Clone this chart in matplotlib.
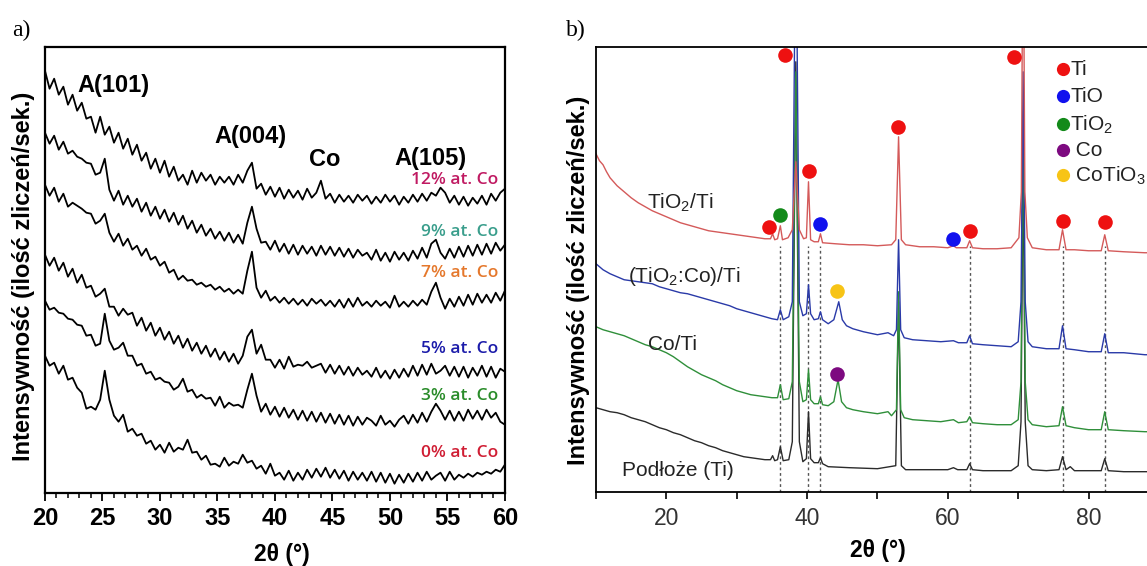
import numpy as np
import matplotlib
matplotlib.use("Agg")
import matplotlib.pyplot as plt
from matplotlib.ticker import MultipleLocator, FixedLocator

plt.rcParams['font.family'] = ['Liberation Sans', 'DejaVu Sans']
plt.rcParams['mathtext.default'] = 'regular'

# ---------------- panel a) data: 2theta grid 20..60 step 0.4 ----------------
tt_a = np.round(np.arange(20.0, 60.01, 0.4), 1)

co_12 = [422, 404, 414, 398, 406, 388, 398, 382, 390, 374,
         376, 360, 376, 358, 366, 350, 360, 344, 354, 338,
         348, 332, 340, 324, 334, 320, 332, 316, 326, 312,
         318, 308, 322, 310, 320, 312, 318, 308, 316, 310,
         316, 308, 318, 310, 322, 330, 304, 309, 298, 306,
         296, 305, 294, 303, 295, 302, 293, 304, 295, 300,
         312, 294, 299, 290, 298, 291, 297, 290, 298, 292,
         297, 289, 296, 290, 298, 291, 297, 288, 296, 290,
         298, 291, 299, 292, 300, 297, 305, 300, 290, 297,
         288, 296, 287, 295, 289, 297, 288, 299, 292, 300,
         304]
co_9 = [360, 349, 357, 343, 351, 339, 342, 336, 334, 330,
        329, 318, 320, 334, 303, 292, 302, 288, 297, 286,
        294, 281, 290, 277, 286, 274, 283, 271, 280, 268,
        277, 264, 272, 260, 268, 257, 264, 254, 261, 252,
        260, 250, 258, 249, 270, 286, 264, 250, 251, 243,
        252, 241, 249, 239, 248, 238, 247, 239, 246, 237,
        247, 238, 246, 237, 245, 236, 244, 235, 243, 237,
        240, 233, 243, 232, 240, 231, 241, 233, 240, 232,
        242, 234, 245, 235, 249, 253, 240, 234, 244, 235,
        246, 236, 247, 237, 248, 238, 249, 239, 250, 242,
        248]
co_7 = [308, 297, 305, 291, 299, 286, 290, 287, 284, 280,
        279, 269, 272, 279, 260, 251, 259, 247, 254, 243,
        247, 237, 244, 233, 236, 227, 231, 220, 223, 213,
        217, 212, 213, 208, 210, 206, 208, 203, 206, 201,
        204, 199, 203, 199, 222, 241, 205, 195, 202, 192,
        196, 190, 195, 189, 194, 188, 193, 187, 194, 189,
        193, 187, 192, 186, 193, 185, 194, 186, 195, 187,
        191, 186, 192, 187, 191, 185, 197, 186, 191, 186,
        192, 187, 193, 188, 201, 210, 195, 184, 194, 186,
        196, 187, 198, 188, 199, 190, 198, 190, 200, 192,
        202]
co_5 = [238, 227, 235, 222, 230, 216, 224, 210, 218, 205,
        207, 196, 199, 204, 186, 186, 177, 184, 178, 180,
        167, 175, 162, 170, 157, 165, 153, 161, 149, 157,
        145, 154, 142, 150, 139, 147, 136, 144, 133, 141,
        131, 139, 129, 137, 156, 163, 139, 148, 133, 133,
        125, 133, 124, 136, 126, 128, 127, 131, 125, 127,
        129, 120, 128, 119, 127, 118, 126, 117, 125, 118,
        122, 116, 125, 115, 122, 114, 123, 115, 124, 116,
        127, 117, 128, 118, 129, 119, 122, 127, 117, 126,
        116, 126, 115, 125, 117, 127, 116, 126, 115, 124,
        121]
co_3 = [192, 183, 185, 180, 179, 174, 173, 168, 167, 157,
        158, 147, 149, 179, 152, 143, 145, 150, 137, 137,
        127, 129, 119, 121, 113, 115, 111, 110, 103, 106,
        114, 101, 103, 95, 98, 94, 95, 87, 96, 85,
        90, 87, 88, 85, 103, 119, 97, 81, 89, 78,
        86, 76, 85, 75, 83, 73, 82, 72, 81, 71,
        80, 70, 79, 69, 78, 68, 77, 67, 76, 68,
        75, 72, 67, 77, 68, 72, 66, 73, 77, 69,
        78, 70, 80, 71, 81, 89, 82, 73, 82, 72,
        81, 72, 83, 74, 82, 73, 83, 75, 80, 71,
        68]
co_0 = [137, 127, 130, 119, 127, 113, 115, 105, 100, 84,
        86, 83, 93, 122, 93, 77, 71, 78, 61, 64,
        57, 59, 49, 52, 43, 48, 40, 50, 41, 45,
        43, 53, 40, 41, 33, 37, 28, 29, 26, 35,
        27, 31, 29, 38, 30, 32, 24, 27, 19, 29,
        17, 20, 13, 22, 12, 20, 13, 23, 15, 24,
        16, 25, 15, 23, 14, 22, 12, 21, 13, 20,
        12, 21, 11, 20, 10, 19, 9, 18, 10, 19,
        11, 20, 12, 21, 13, 17, 20, 12, 21, 13,
        18, 15, 19, 16, 20, 18, 21, 19, 23, 21,
        28]

series_a = [co_12, co_9, co_7, co_5, co_3, co_0]
labels_a = ['12% at. Co', '9% at. Co', '7% at. Co', '5% at. Co', '3% at. Co', '0% at. Co']
label_y_a = [313, 261, 220, 144, 97, 40]
label_colors_a = ['#c01a62', '#3a9e8c', '#e5782c', '#1c1caa', '#2a8c2a', '#d01e34']

peak_names_a = ['A(101)', 'A(004)', 'Co', 'A(105)']
peak_pos_a = [(26.0, 407), (37.85, 356), (44.3, 333), (53.55, 334)]

# ---------------- panel b) data: (2theta, intensity) ----------------
tio2_ti = [(10, 338), (10.5, 331), (11, 327), (11.5, 320), (12, 314), (13, 306), (14, 300),
           (15, 294), (16, 289), (17, 285), (18, 281), (19, 278), (20, 275), (21, 272),
           (22, 269), (23, 267), (24, 265), (25, 263), (26, 261), (27, 260), (28, 259),
           (29, 258), (30, 257), (31, 256), (32, 255), (33, 254), (34, 253), (34.8, 253),
           (35.1, 258), (35.4, 252), (35.8, 253), (36.2, 266), (36.5, 252), (37.3, 254),
           (37.9, 262), (38.4, 330), (38.9, 262), (39.5, 253), (39.9, 254), (40.2, 310),
           (40.5, 252), (41.0, 250), (41.6, 250), (41.9, 258), (42.2, 249), (44, 248),
           (46, 247), (48, 247), (50, 246), (52, 247), (52.6, 252), (53.0, 355), (53.4, 252),
           (54, 247), (56, 245), (58, 245), (60, 244), (60.8, 246), (61.2, 244), (62.7, 244),
           (63.1, 251), (63.5, 244), (65, 243), (67, 243), (69, 244), (70.1, 254),
           (70.45, 300), (70.7, 600), (70.95, 300), (71.3, 254), (72, 244), (74, 242),
           (75.8, 242), (76.3, 262), (76.8, 242), (78, 242), (80, 241), (81.8, 241),
           (82.3, 257), (82.8, 241), (85, 240), (88, 239), (90, 239)]
tio2co_ti = [(10, 228), (11, 222), (12, 218), (13, 215), (14, 212), (15, 211), (16, 210),
             (17, 209), (18, 208), (19, 205), (20, 203), (21, 201), (22, 199), (23, 198),
             (24, 196), (25, 194), (26, 192), (27, 190), (28, 188), (29, 186), (30, 183),
             (31, 181), (32, 179), (33, 177), (34, 175), (35, 173), (35.8, 172), (36.2, 182),
             (36.6, 172), (37.4, 175), (37.9, 190), (38.4, 600), (38.9, 190), (39.4, 176),
             (39.9, 178), (40.2, 207), (40.5, 178), (41.0, 172), (41.6, 173), (41.9, 180),
             (42.2, 172), (43.0, 168), (43.8, 172), (44.5, 190), (45.0, 172), (45.6, 166),
             (46.5, 163), (48, 160), (50, 157), (51.5, 159), (52.3, 156), (52.7, 162),
             (53.0, 252), (53.3, 162), (53.8, 154), (55, 152), (57, 151), (59, 150),
             (60.8, 151), (61.5, 149), (62.7, 149), (63.1, 156), (63.5, 148), (65, 147),
             (67, 146), (69, 145), (70.0, 150), (70.4, 190), (70.7, 420), (71.0, 190),
             (71.4, 150), (72, 145), (74, 143), (75.8, 143), (76.3, 166), (76.8, 143),
             (78, 142), (80, 140), (81.8, 140), (82.3, 158), (82.8, 139), (85, 139),
             (88, 137), (90, 137)]
co_ti = [(10, 165), (11, 162), (12, 160), (13, 158), (14, 156), (15, 153), (16, 150),
         (17, 147), (18, 145), (19, 142), (20, 139), (21, 135), (22, 130), (23, 125),
         (24, 121), (25, 117), (26, 114), (27, 111), (28, 107), (29, 104), (30, 101),
         (31, 99), (32, 97), (33, 96), (34, 95), (35, 94), (35.8, 94), (36.2, 107),
         (36.6, 92), (37.4, 93), (37.9, 110), (38.4, 420), (38.9, 110), (39.4, 90),
         (39.9, 92), (40.2, 122), (40.5, 92), (41.0, 88), (41.6, 88), (41.9, 95),
         (42.2, 87), (43.0, 86), (43.8, 90), (44.4, 112), (44.9, 90), (45.6, 84),
         (46.5, 82), (48, 80), (50, 78), (51.5, 80), (52.0, 76), (52.7, 82), (53.0, 200),
         (53.3, 82), (53.8, 74), (55, 72), (57, 71), (59, 70), (60.8, 72), (61.5, 69),
         (62.7, 70), (63.1, 75), (63.5, 69), (65, 68), (67, 67), (69, 67), (70.0, 72),
         (70.4, 110), (70.7, 380), (71.0, 110), (71.4, 72), (72, 67), (74, 65),
         (75.8, 66), (76.3, 85), (76.8, 66), (78, 64), (80, 62), (81.8, 62), (82.3, 80),
         (82.8, 62), (85, 61), (88, 60), (90, 60)]
podloze_ti = [(10, 84), (11, 82), (12, 80), (13, 79), (14, 77), (15, 74), (16, 72), (17, 70),
              (18, 67), (19, 64), (20, 62), (21, 59), (22, 57), (23, 54), (24, 51), (25, 49),
              (26, 46), (27, 44), (28, 41), (29, 39), (30, 37), (31, 35), (32, 34), (33, 33),
              (34, 32), (34.8, 32), (35.1, 36), (35.4, 31), (35.8, 32), (36.2, 45),
              (36.6, 31), (37.4, 32), (37.9, 50), (38.4, 430), (38.9, 50), (39.4, 30),
              (39.9, 33), (40.2, 80), (40.5, 33), (41.0, 29), (41.6, 29), (41.9, 34),
              (42.2, 28), (43, 25), (46, 24), (50, 23), (52.6, 26), (53.0, 190), (53.4, 26),
              (54, 22), (57, 22), (60, 22), (60.8, 24), (61.4, 22), (62.7, 22), (63.1, 28),
              (63.5, 22), (65, 21), (69, 21), (70.0, 26), (70.4, 70), (70.7, 330),
              (71.0, 70), (71.4, 26), (72, 22), (74, 21), (75.8, 22), (76.3, 35), (76.8, 22),
              (77.4, 25), (78, 21), (80, 21), (81.8, 21), (82.3, 33), (82.8, 21), (85, 20),
              (88, 20), (90, 20)]

curves_b = [podloze_ti, co_ti, tio2co_ti, tio2_ti]
colors_b = ['#2b2b2b', '#2f8f3a', '#2a3aa8', '#d45a5a']
names_b = ['TiO$_2$/Ti', '(TiO$_2$:Co)/Ti', 'Co/Ti', 'Podłoże (Ti)']
name_pos_b = [(17.2, 283), (14.5, 210), (17.4, 142), (13.65, 16)]

ref_lines = [36.2, 40.2, 41.9, 63.1, 76.3, 82.3]

phase_colors = {'Ti': '#ee1111', 'TiO': '#1111ee', 'TiO2': '#138a1a',
                'Co': '#7d0a80', 'CoTiO3': '#f7c416'}
phase_marks = [('Ti', 36.85, 437), ('Ti', 69.4, 435), ('Ti', 52.9, 365), ('Ti', 40.26, 321),
               ('Ti', 34.6, 265), ('TiO2', 36.1, 277), ('TiO', 41.9, 268), ('TiO', 60.75, 253),
               ('Ti', 63.1, 261), ('Ti', 76.4, 271), ('Ti', 82.3, 270),
               ('CoTiO3', 44.3, 201), ('Co', 44.2, 118)]
legend_keys = ['Ti', 'TiO', 'TiO2', 'Co', 'CoTiO3']
legend_text = ['Ti', 'TiO', 'TiO$_2$', ' Co', ' CoTiO$_3$']
legend_rows = [423, 396, 368, 342, 317]

ylabel_text = 'Intensywność (ilość zliczeń/sek.)'

fig = plt.figure(figsize=(11.47, 5.66), dpi=100)

# ---------------- panel a ----------------
ax1 = fig.add_axes([0.0392, 0.1295, 0.401, 0.788])
for s in series_a:
    ax1.plot(tt_a, s, color='black', lw=1.3)
for txt, yy, c in zip(labels_a, label_y_a, label_colors_a):
    ax1.text(59.4, yy, txt, color=c, ha='right', va='center', fontsize=12.5,
             family=['Open Sans', 'DejaVu Sans'], fontweight='semibold')
for txt, (px, py) in zip(peak_names_a, peak_pos_a):
    ax1.text(px, py, txt, ha='center', va='center', fontsize=17, fontweight='bold')
ax1.set_xlim(20, 60)
ax1.set_ylim(0, 446)
ax1.set_yticks([])
ax1.xaxis.set_major_locator(MultipleLocator(5))
ax1.xaxis.set_minor_locator(MultipleLocator(1))
ax1.tick_params(axis='x', which='major', direction='out', length=5.5, width=1.3,
                labelsize=17, pad=5)
ax1.tick_params(axis='x', which='minor', direction='out', length=3.5, width=1.1)
for lab in ax1.get_xticklabels():
    lab.set_fontweight('bold')
for sp in ax1.spines.values():
    sp.set_linewidth(1.6)
ax1.set_xlabel('2θ (°)', fontsize=16.5, fontweight='bold')
ax1.xaxis.set_label_coords(0.515, -0.112)
ax1.set_ylabel(ylabel_text, fontsize=17, fontweight='bold')
ax1.yaxis.set_label_coords(-0.022, 0.486)

# ---------------- panel b ----------------
ax2 = fig.add_axes([0.5196, 0.1313, 0.4908, 0.786])
for xr in ref_lines:
    ax2.plot([xr, xr], [0, 246], color='#555555', lw=1.0, ls=(0, (2, 2)), zorder=1)
for data, c in zip(curves_b, colors_b):
    xs = [p[0] for p in data]
    ys = [p[1] for p in data]
    ax2.plot(xs, ys, color=c, lw=1.0, zorder=2)
for txt, (px, py) in zip(names_b, name_pos_b):
    ax2.text(px, py, txt, ha='left', va='baseline', fontsize=15, color='#222222')
for key, px, py in phase_marks:
    ax2.plot(px, py, 'o', ms=10.5, color=phase_colors[key], mec='none', zorder=5)
for key, txt, ry in zip(legend_keys, legend_text, legend_rows):
    ax2.plot(76.4, ry, 'o', ms=9.5, color=phase_colors[key], mec='none', zorder=5)
    ax2.text(77.4, ry - 6.5, txt, ha='left', va='baseline', fontsize=15, color='#222222')
ax2.set_xlim(10, 90)
ax2.set_ylim(0, 445)
ax2.set_yticks([])
ax2.xaxis.set_major_locator(FixedLocator([10, 20, 30, 40, 50, 60, 70, 80, 90]))
ax2.set_xticklabels(['', '20', '', '40', '', '60', '', '80', ''])
ax2.tick_params(axis='x', direction='out', length=5, width=1.2, labelsize=16.5, pad=6,
                labelcolor='#333333')
for sp in ax2.spines.values():
    sp.set_linewidth(1.3)
ax2.set_xlabel('2θ (°)', fontsize=16.5, fontweight='bold')
ax2.xaxis.set_label_coords(0.5, -0.106)
ax2.set_ylabel(ylabel_text, fontsize=17, fontweight='bold')
ax2.yaxis.set_label_coords(-0.01, 0.476)

fig.text(12 / 1147, 1 - 30 / 566, 'a)', family=['Liberation Serif', 'DejaVu Serif'],
         fontsize=17, ha='left', va='center')
fig.text(566 / 1147, 1 - 30 / 566, 'b)', family=['Liberation Serif', 'DejaVu Serif'],
         fontsize=17, ha='left', va='center')

fig.savefig('out.png', dpi=100)
